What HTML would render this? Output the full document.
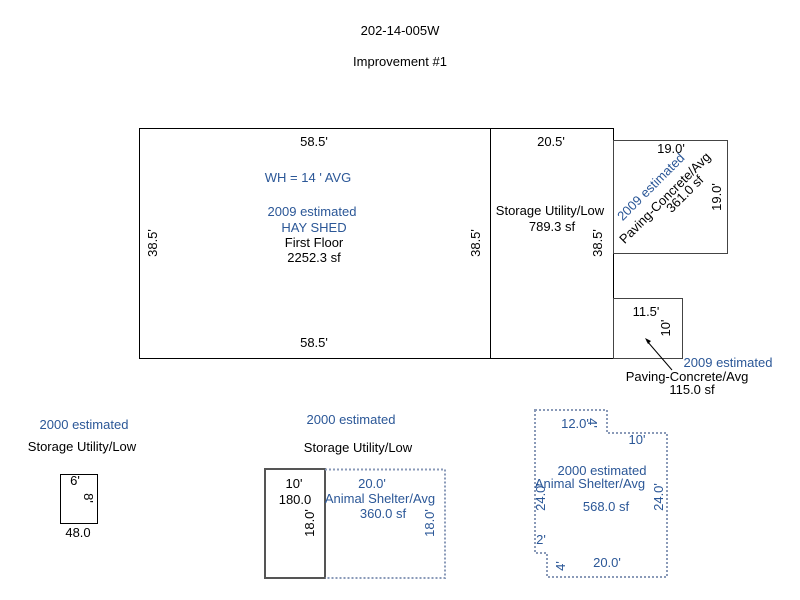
<!DOCTYPE html>
<html><head><style>body{margin:0;background:#fff}svg{display:block}text{font-family:"Liberation Sans",sans-serif;font-size:13px;fill:#000}.b{fill:#2b5797}</style></head><body>
<svg width="800" height="600" xmlns="http://www.w3.org/2000/svg">
<text x="400" y="35" text-anchor="middle">202-14-005W</text>
<text x="400" y="66" text-anchor="middle">Improvement #1</text>
<g fill="none" stroke="#000" stroke-width="1">
<rect x="139.5" y="128.5" width="351" height="230"/>
<rect x="490.5" y="128.5" width="123" height="230"/>
<rect x="613.5" y="140.5" width="114" height="113" stroke="#444"/>
<rect x="613.5" y="298.5" width="69" height="60" stroke="#444"/>
<rect x="60.5" y="474.5" width="37" height="49"/>
</g>
<rect x="265" y="469" width="60" height="109" fill="none" stroke="#555" stroke-width="2"/>
<g fill="none" stroke="#8a9ab8" stroke-width="2" stroke-dasharray="2,2">
<path d="M325 469.5H445V578H325"/>
<path d="M535 410H607V433H667V577H547V553H535Z"/>
</g>
<g text-anchor="middle">
<text x="314" y="146">58.5'</text>
<text x="314" y="347">58.5'</text>
<text class="b" x="308" y="182">WH =  14 ' AVG</text>
<text class="b" x="312" y="216">2009 estimated</text>
<text class="b" x="314" y="232">HAY SHED</text>
<text x="314" y="247">First Floor</text>
<text x="314" y="262">2252.3 sf</text>
<text x="551" y="146">20.5'</text>
<text x="550" y="215">Storage Utility/Low</text>
<text x="552" y="231">789.3 sf</text>
<text transform="translate(157,243) rotate(-90)">38.5'</text>
<text transform="translate(480,243) rotate(-90)">38.5'</text>
<text transform="translate(602,243) rotate(-90)">38.5'</text>
<text x="671" y="153">19.0'</text>
<text transform="translate(721,197) rotate(-90)">19.0'</text>
<text class="b" transform="translate(654,190) rotate(-45)">2009 estimated</text>
<text transform="translate(668,201) rotate(-45)">Paving-Concrete/Avg</text>
<text transform="translate(688,197) rotate(-45)">361.0 sf</text>
<text x="646" y="316">11.5'</text>
<text transform="translate(670,328) rotate(-90)">10'</text>
<text class="b" x="728" y="367">2009 estimated</text>
<text x="687" y="381">Paving-Concrete/Avg</text>
<text x="692" y="394">115.0 sf</text>
<text class="b" x="84" y="429">2000 estimated</text>
<text x="82" y="451">Storage Utility/Low</text>
<text x="75" y="485">6'</text>
<text transform="translate(84,498) rotate(90)">8'</text>
<text x="78" y="537">48.0</text>
<text class="b" x="351" y="424">2000 estimated</text>
<text x="358" y="452">Storage Utility/Low</text>
<text x="294" y="488">10'</text>
<text x="295" y="504">180.0</text>
<text transform="translate(314,523) rotate(-90)">18.0'</text>
<text class="b" x="372" y="488">20.0'</text>
<text class="b" x="380" y="503">Animal Shelter/Avg</text>
<text class="b" x="383" y="518">360.0 sf</text>
<text class="b" transform="translate(434,523) rotate(-90)">18.0'</text>
<text class="b" x="575" y="428">12.0'</text>
<text class="b" transform="translate(588,423) rotate(90)">4'</text>
<text class="b" x="637" y="444">10'</text>
<text class="b" x="602" y="475">2000 estimated</text>
<text class="b" x="590" y="488">Animal Shelter/Avg</text>
<text class="b" x="606" y="511">568.0 sf</text>
<text class="b" transform="translate(545,497) rotate(-90)">24.0'</text>
<text class="b" transform="translate(663,497) rotate(-90)">24.0'</text>
<text class="b" x="541" y="544">2'</text>
<text class="b" transform="translate(565,566) rotate(-90)">4'</text>
<text class="b" x="607" y="567">20.0'</text>
</g>
<line x1="672" y1="370" x2="647" y2="341" stroke="#000" stroke-width="1"/>
<path d="M645 338 L651 341 L648 344 Z" fill="#000"/>
</svg>
</body></html>
